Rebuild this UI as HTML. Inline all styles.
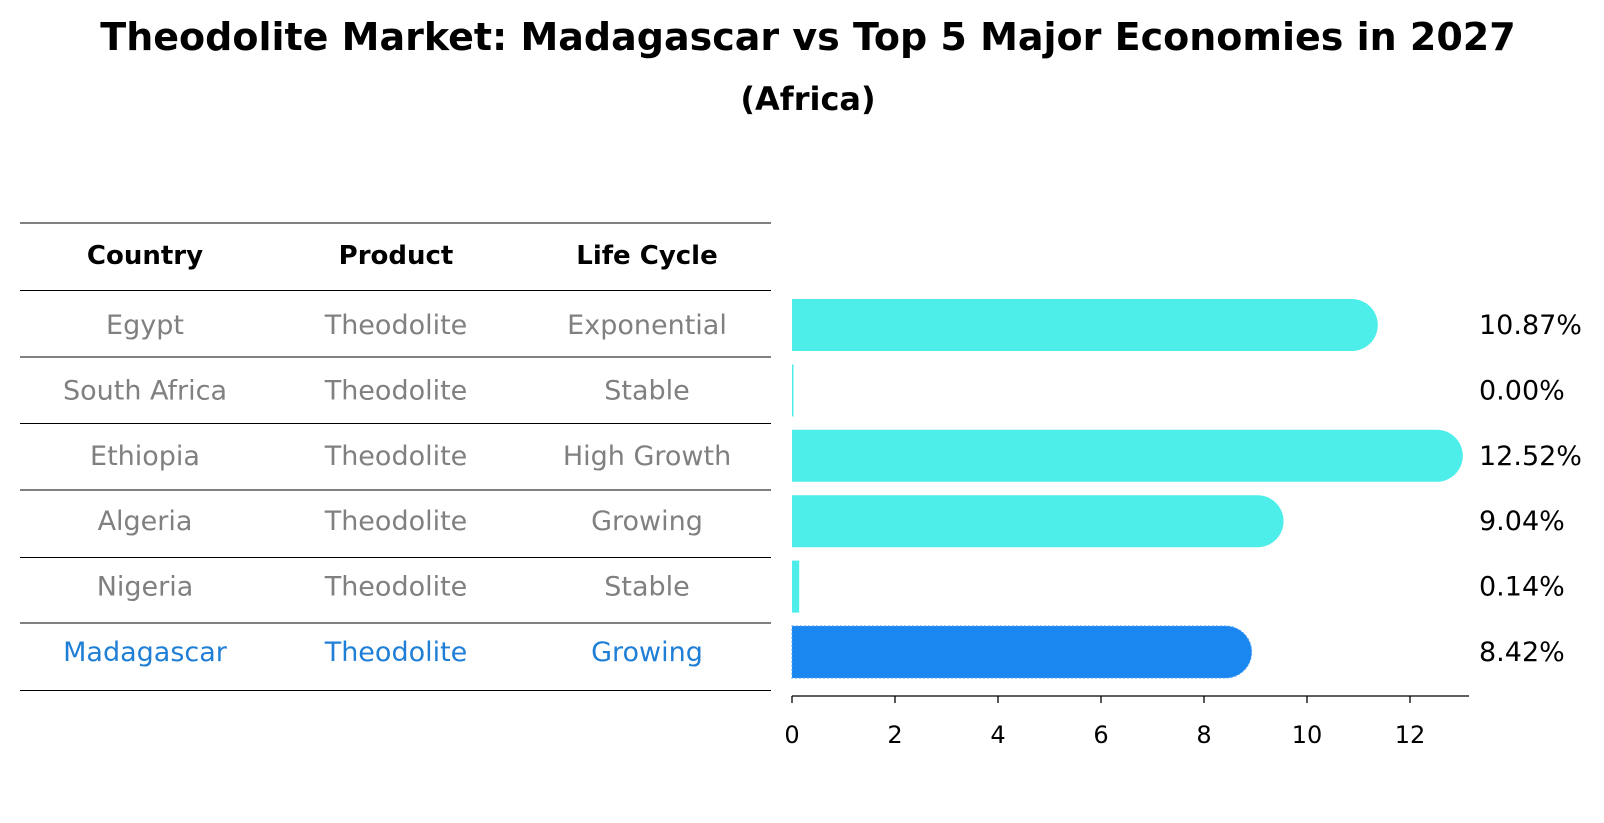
<!DOCTYPE html>
<html><head><meta charset="utf-8"><style>
body{margin:0;background:#fff;font-family:"DejaVu Sans","Liberation Sans",sans-serif;}
svg{display:block}
</style></head><body>
<svg width="1604" height="823" id="c" xmlns="http://www.w3.org/2000/svg" style="font-family:'DejaVu Sans','Liberation Sans',sans-serif">
<text x="808" y="50" text-anchor="middle" style="font-size:38px;font-weight:bold">Theodolite Market: Madagascar vs Top 5 Major Economies in 2027</text>
<text x="808" y="110" text-anchor="middle" style="font-size:32px;font-weight:bold">(Africa)</text>
<g id="table"></g>
<g id="bars"></g>
<g id="axis"></g>
</svg>
<script>
const countries=["Egypt","South Africa","Ethiopia","Algeria","Nigeria","Madagascar"];
const products=["Theodolite","Theodolite","Theodolite","Theodolite","Theodolite","Theodolite"];
const lifecycles=["Exponential","Stable","High Growth","Growing","Stable","Growing"];
const values=[10.87,0.00,12.52,9.04,0.14,8.42];
const ticks=[0,2,4,6,8,10,12];
const NS="http://www.w3.org/2000/svg";
const x0=792, pxPer=51.5;
const xs=v=>x0+v*pxPer;
const rowY=i=>325+i*65.4;
function mk(tag,attrs,parent,text){const e=document.createElementNS(NS,tag);for(const k in attrs)e.setAttribute(k,attrs[k]);if(text!==undefined)e.textContent=text;parent.appendChild(e);return e;}
const T=document.getElementById('table');
const lines=[223,290.5,357,423.5,490,557.5,623,690.5];
lines.forEach((y,i)=>{const l=mk('line',{x1:20,x2:771,y1:y,y2:y,stroke:'#000','stroke-width':1},T);

});
const colX=[145,396,647];
["Country","Product","Life Cycle"].forEach((h,i)=>{const t=mk('text',{x:colX[i],y:264,'text-anchor':'middle',style:'font-size:26px;font-weight:bold'},T,h);

});
countries.forEach((c,i)=>{const y=rowY(i)+9;const col=c==="Madagascar"?"#1f7fd6":"#808080";
[c,products[i],lifecycles[i]].forEach((s,j)=>{const t=mk('text',{x:colX[j],y:y,'text-anchor':'middle',style:'font-size:27px',fill:col},T,s);

});});
const B=document.getElementById('bars');
const h=52,r=26;
values.forEach((v,i)=>{const cy=rowY(i),top=cy-h/2,xe=xs(v);const mad=countries[i]==="Madagascar";
const fill=mad?"#1a86f0":"#4deeea";let el;
if(v>1){el=mk('path',{d:`M${x0},${top} H${xe} A${r},${r} 0 0 1 ${xe},${top+h} H${x0} Z`,fill:fill},B);}
else{el=mk('rect',{x:x0,y:top,width:Math.max(xe-x0,1.5),height:h,fill:fill},B);}
if(mad){el.setAttribute('stroke','#4a9ff5');el.setAttribute('stroke-dasharray','2 2');el.setAttribute('stroke-width','1');}


const t=mk('text',{x:1479,y:cy+9,style:'font-size:27px'},B,values[i].toFixed(2)+'%');

});
const A=document.getElementById('axis');
const al=mk('line',{x1:x0,x2:1469,y1:696,y2:696,stroke:'#000','stroke-width':1.3},A);


ticks.forEach(t=>{const tl=mk('line',{x1:xs(t),x2:xs(t),y1:696,y2:703,stroke:'#000','stroke-width':1.3},A);


const lb=mk('text',{x:xs(t),y:743,'text-anchor':'middle',style:'font-size:24px'},A,String(t));

});
</script>
</body></html>
